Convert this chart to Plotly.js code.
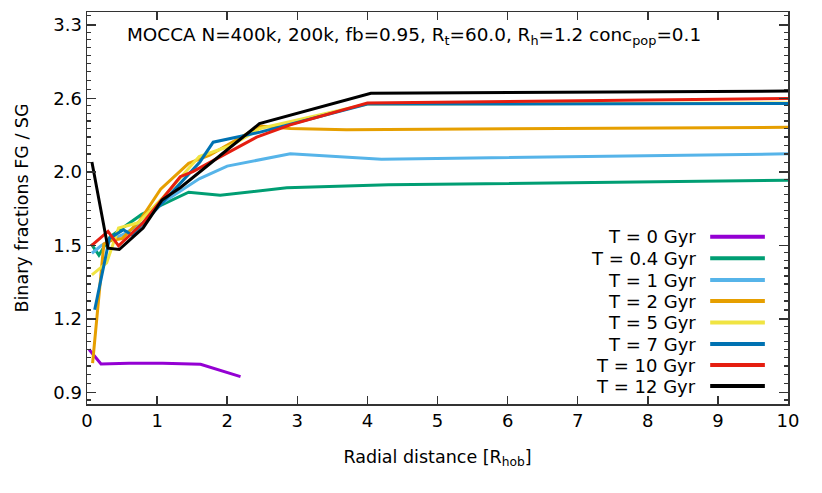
<!DOCTYPE html>
<html>
<head>
<meta charset="utf-8">
<script src="https://cdn.plot.ly/plotly-3.0.1.min.js"></script>
<style>
  body { margin: 0; background: #fff; }
  #plot { width: 822px; height: 493px; }
</style>
</head>
<body>
<div id="plot"></div>
<script>
// series names and colours (gnuplot default palette)
const names = ['T = 0 Gyr', 'T = 0.4 Gyr', 'T = 1 Gyr', 'T = 2 Gyr', 'T = 5 Gyr', 'T = 7 Gyr', 'T = 10 Gyr', 'T = 12 Gyr']
const colors = ['#9400d3', '#009e73', '#56b4e9', '#e69f00', '#f0e442', '#0072b2', '#e51e10', '#000000']

// radial distance [R_hob] and FG/SG binary fraction ratio
const r0 = [0.03, 0.2, 0.6, 1.08, 1.62, 2.19]
const f0 = [1.05, 0.997, 1.0, 1.0, 0.996, 0.953]

const r04 = [0.06, 0.17, 0.33, 0.78, 1.45, 1.9, 2.85, 4.3, 10]
const f04 = [1.53, 1.47, 1.57, 1.70, 1.84, 1.82, 1.87, 1.89, 1.92]

const r1 = [0.07, 0.2, 0.33, 0.5, 0.8, 1.07, 1.6, 2.0, 2.9, 4.2, 10]
const f1 = [1.48, 1.52, 1.55, 1.58, 1.65, 1.77, 1.93, 2.02, 2.11, 2.07, 2.11]

const r2 = [0.08, 0.24, 0.35, 0.5, 0.75, 1.05, 1.45, 1.75, 2.47, 2.9, 3.7, 10]
const f2 = [1.0, 1.53, 1.55, 1.56, 1.66, 1.86, 2.04, 2.1, 2.33, 2.31, 2.30, 2.32]

const r5 = [0.07, 0.28, 0.45, 0.73, 1.07, 1.6, 2.04, 2.47, 4.0, 10]
const f5 = [1.37, 1.43, 1.62, 1.65, 1.80, 2.09, 2.17, 2.31, 2.52, 2.53]

const r7 = [0.11, 0.32, 0.52, 0.64, 1.07, 1.61, 1.8, 2.47, 4.0, 10]
const f7 = [1.21, 1.56, 1.61, 1.58, 1.77, 2.05, 2.20, 2.28, 2.52, 2.525]

const r10 = [0.06, 0.3, 0.45, 0.8, 1.33, 1.51, 2.42, 2.9, 4.0, 10]
const f10 = [1.52, 1.60, 1.52, 1.65, 1.945, 1.98, 2.24, 2.34, 2.53, 2.57]

const r12 = [0.07, 0.3, 0.46, 0.8, 1.07, 1.33, 2.46, 4.05, 10]
const f12 = [2.05, 1.507, 1.50, 1.62, 1.79, 1.87, 2.35, 2.62, 2.64]

const radii = [r0, r04, r1, r2, r5, r7, r10, r12]
const fracs = [f0, f04, f1, f2, f5, f7, f10, f12]

// log axis, major ticks every factor 1.3 from 0.9
const yTickVals = [0.9, 1.17, 1.521, 1.9773, 2.5705, 3.3417]
const yTickText = ['0.9', '1.2', '1.5', '2.0', '2.6', '3.3']
const xTickVals = [0, 1, 2, 3, 4, 5, 6, 7, 8, 9, 10]

// minor ticks: 8 linear steps inside each major interval
let majors = [yTickVals[0] / 1.3].concat(yTickVals, [yTickVals[5] * 1.3])
let minorVals = []
for (let i = 0; i < majors.length - 1; i++) {
    let step = (majors[i + 1] - majors[i]) / 9
    for (let k = 1; k < 9; k++) minorVals.push(majors[i] + k * step)
}

const data = []
for (let i = 0; i < names.length; i++) {
    data.push({
        type: 'scatter',
        mode: 'lines',
        name: names[i],
        x: radii[i],
        y: fracs[i],
        line: {color: colors[i], width: 3},
        showlegend: false
    })
}

// legend drawn by hand: text on the left, line sample on the right
const annotations = [{
    xref: 'paper', yref: 'paper',
    x: 0.467, y: 0.975,
    text: 'MOCCA N=400k, 200k, fb=0.95, R<sub>t</sub>=60.0, R<sub>h</sub>=1.2 conc<sub>pop</sub>=0.1',
    showarrow: false,
    font: {size: 18.4}
}]
const shapes = []
const rowY = [236.7, 258.3, 280, 301, 322.5, 344, 365, 386]
for (let i = 0; i < names.length; i++) {
    let yp = (404 - rowY[i]) / 392
    annotations.push({
        xref: 'paper', yref: 'paper',
        x: 0.871, y: yp,
        xanchor: 'right', yanchor: 'middle',
        text: names[i],
        showarrow: false,
        font: {size: 18}
    })
    shapes.push({
        type: 'line', xref: 'paper', yref: 'paper',
        x0: 0.889, x1: 0.967, y0: yp, y1: yp,
        line: {color: colors[i], width: 4}
    })
}

const layout = {
    width: 822,
    height: 493,
    margin: {l: 87, r: 34, t: 12, b: 89},
    paper_bgcolor: '#fff',
    plot_bgcolor: '#fff',
    font: {family: 'DejaVu Sans', size: 18, color: '#000'},
    showlegend: false,
    xaxis: {
        range: [0, 10],
        tickmode: 'array',
        tickvals: xTickVals,
        ticks: 'inside',
        ticklen: 8,
        tickwidth: 1.5,
        tickcolor: '#333',
        tickfont: {size: 18},
        showline: true,
        linewidth: 1.5,
        linecolor: '#333',
        mirror: 'ticks',
        showgrid: false,
        zeroline: false,
        title: {text: 'Radial distance [R<sub>hob</sub>]', font: {size: 17.5}, standoff: 20}
    },
    yaxis: {
        type: 'log',
        range: [-0.0633, 0.5441],
        tickmode: 'array',
        tickvals: yTickVals,
        ticktext: yTickText,
        ticks: 'inside',
        ticklen: 9,
        tickwidth: 1.5,
        tickcolor: '#333',
        tickfont: {size: 18},
        minor: {tickmode: 'array', tickvals: minorVals, ticks: 'inside', ticklen: 4, tickwidth: 1.2, tickcolor: '#333'},
        showline: true,
        linewidth: 1.5,
        linecolor: '#333',
        mirror: 'ticks',
        showgrid: false,
        zeroline: false,
        title: {text: 'Binary fractions FG / SG', font: {size: 17.5}, standoff: 20}
    },
    annotations: annotations,
    shapes: shapes
}

Plotly.newPlot('plot', data, layout, {displayModeBar: false, staticPlot: true})
</script>
</body>
</html>
